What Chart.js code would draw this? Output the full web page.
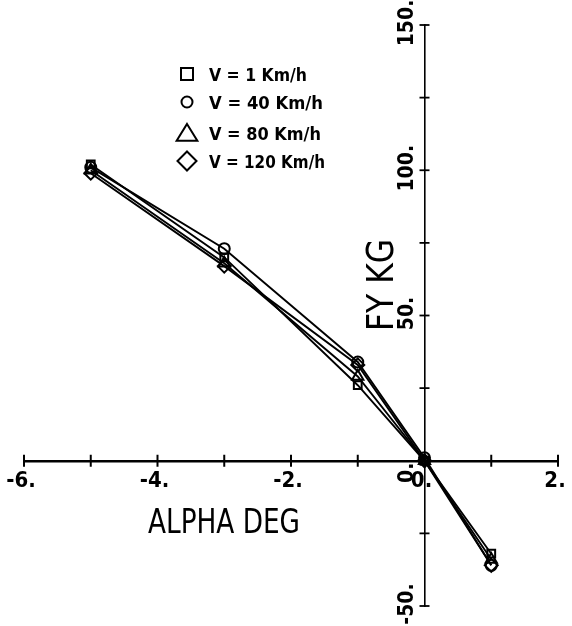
<!DOCTYPE html>
<html>
<head>
<meta charset="utf-8">
<script src="https://cdn.jsdelivr.net/npm/chart.js@4/dist/chart.umd.min.js"></script>
<style>
  html, body { margin: 0; padding: 0; background: #fff; }
  #wrap { position: relative; width: 572px; height: 626px; }
</style>
</head>
<body>
<div id="wrap"><canvas id="c" width="572" height="626"></canvas></div>
<script>
// ---- data ----
const alpha = [-5, -3, -1, 0, 1];
const seriesLabels = ['V = 1 Km/h', 'V = 40 Km/h', 'V = 80 Km/h', 'V = 120 Km/h'];
const fyV1   = [102, 70, 26, 0, -32];
const fyV40  = [101, 73, 34, 1, -36];
const fyV80  = [100, 68, 29, 0, -34];
const fyV120 = [99, 67, 33, 0, -36];
const pointStyles = ['rect', 'circle', 'triangle', 'rectRot'];
const xTickValues = [-6, -5, -4, -3, -2, -1, 0, 1, 2];
const xTickLabelValues = [-6, -4, -2, 0, 2];
const xTickLabels = ['-6.', '-4.', '-2.', '0.', '2.'];
const yTickValues = [-50, -25, 0, 25, 50, 75, 100, 125, 150];
const yTickLabelValues = [-50, 0, 50, 100, 150];
const yTickLabels = ['-50.', '0.', '50.', '100.', '150.'];
const xTitle = 'ALPHA DEG';
const yTitle = 'FY KG';

const FONT = '"DejaVu Sans Condensed", "DejaVu Sans", sans-serif';
const allSeries = [fyV1, fyV40, fyV80, fyV120];

const datasets = allSeries.map((vals, i) => ({
  label: seriesLabels[i],
  data: alpha.map((a, j) => ({ x: a, y: vals[j] })),
  borderColor: '#000',
  borderWidth: 1.9,
  pointStyle: pointStyles[i],
  pointRadius: i >= 2 ? 6.5 : 5.5,
  pointBorderWidth: 2,
  pointBorderColor: '#000',
  pointBackgroundColor: 'rgba(255,255,255,0)',
  tension: 0,
  fill: false
}));

function fitText(ctx, text, cx, cy, fontPx, weight, targetW, rot) {
  ctx.save();
  ctx.font = weight + ' ' + fontPx + 'px ' + FONT;
  const w = ctx.measureText(text).width;
  ctx.translate(cx, cy);
  if (rot) ctx.rotate(rot);
  const sx = targetW ? targetW / w : 1;
  ctx.scale(sx, 1);
  ctx.textAlign = 'center';
  ctx.textBaseline = 'middle';
  ctx.fillStyle = '#000';
  ctx.fillText(text, 0, 0);
  ctx.restore();
}

function drawSymbol(ctx, style, x, y, r) {
  ctx.beginPath();
  if (style === 'rect') {
    ctx.rect(x - r, y - r, 2 * r, 2 * r);
  } else if (style === 'circle') {
    ctx.arc(x, y, r, 0, Math.PI * 2);
  } else if (style === 'triangle') {
    ctx.moveTo(x, y - r);
    ctx.lineTo(x + r * 1.15, y + r * 0.85);
    ctx.lineTo(x - r * 1.15, y + r * 0.85);
    ctx.closePath();
  } else if (style === 'rectRot') {
    ctx.moveTo(x, y - r);
    ctx.lineTo(x + r, y);
    ctx.lineTo(x, y + r);
    ctx.lineTo(x - r, y);
    ctx.closePath();
  }
  ctx.stroke();
}

const deco = {
  id: 'deco',
  afterDraw(chart) {
    const ctx = chart.ctx;
    const xs = chart.scales.x, ys = chart.scales.y;
    const x0 = xs.getPixelForValue(0), y0 = ys.getPixelForValue(0);
    ctx.save();
    ctx.strokeStyle = '#000';
    // tick crosses
    ctx.lineWidth = 2;
    xTickValues.forEach(v => {
      const px = xs.getPixelForValue(v);
      ctx.beginPath(); ctx.moveTo(px, y0 - 6); ctx.lineTo(px, y0 + 6); ctx.stroke();
    });
    ctx.lineWidth = 1.8;
    yTickValues.forEach(v => {
      const py = ys.getPixelForValue(v);
      ctx.beginPath(); ctx.moveTo(x0 - 5, py); ctx.lineTo(x0 + 5, py); ctx.stroke();
    });
    // x tick labels
    xTickLabelValues.forEach((v, i) => {
      const px = xs.getPixelForValue(v);
      fitText(ctx, xTickLabels[i], px - 3, y0 + 21, 22, 'bold', null, 0);
    });
    // y tick labels (rotated)
    yTickLabelValues.forEach((v, i) => {
      const py = ys.getPixelForValue(v);
      const dy = v === 0 ? 12 : -2;
      fitText(ctx, yTickLabels[i], x0 - 17, py + dy, 21, 'bold', null, -Math.PI / 2);
    });
    // axis titles
    fitText(ctx, xTitle, 224, 524, 33, 'normal', 152, 0);
    fitText(ctx, yTitle, 383, 285, 38, 'normal', 92, -Math.PI / 2);
    // legend
    ctx.lineWidth = 2;
    const rowY = [74, 102, 133, 161];
    const symR = [6, 5.5, 9, 9.5];
    chart.data.datasets.forEach((ds, i) => {
      drawSymbol(ctx, ds.pointStyle, 187, rowY[i], symR[i]);
      ctx.font = 'bold 18px ' + FONT;
      ctx.textAlign = 'left';
      ctx.textBaseline = 'middle';
      ctx.fillStyle = '#000';
      const w = ctx.measureText(ds.label).width;
      const target = [98, 114, 112, 116][i];
      ctx.save();
      ctx.translate(209, rowY[i] + 2);
      ctx.scale(target / w, 1);
      ctx.fillText(ds.label, 0, 0);
      ctx.restore();
    });
    ctx.restore();
  }
};

new Chart(document.getElementById('c'), {
  type: 'line',
  data: { datasets },
  options: {
    responsive: false,
    animation: false,
    devicePixelRatio: 1,
    layout: { padding: { left: 24, right: 14, top: 25, bottom: 20 } },
    plugins: { legend: { display: false }, tooltip: { enabled: false } },
    scales: {
      x: {
        type: 'linear', min: -6, max: 2,
        position: { y: 0 },
        grid: { display: false },
        border: { display: true, color: '#000', width: 2.5 },
        ticks: { display: false }
      },
      y: {
        type: 'linear', min: -50, max: 150,
        position: { x: 0 },
        grid: { display: false },
        border: { display: true, color: '#000', width: 1.6 },
        ticks: { display: false }
      }
    }
  },
  plugins: [deco]
});
</script>
</body>
</html>
